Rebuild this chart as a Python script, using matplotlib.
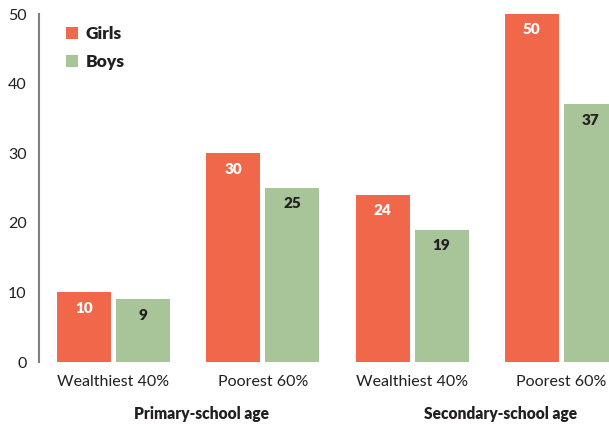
import numpy as np
import matplotlib.pyplot as plt
import matplotlib.transforms as mtransforms

plt.rcParams['font.family'] = ['Lato', 'DejaVu Sans']

categories = ['Wealthiest 40%', 'Poorest 60%', 'Wealthiest 40%', 'Poorest 60%']
groups = ['Primary-school age', 'Secondary-school age']
girls = [10, 30, 24, 50]
boys = [9, 25, 19, 37]

girls_color = '#F06849'
boys_color = '#A8C499'

fig = plt.figure(figsize=(6.09, 4.24), dpi=100)
ax = fig.add_axes([39 / 609, 62 / 424, 570 / 609, 348 / 424])

x = np.arange(len(categories))
w = 0.362
off = 0.198
b1 = ax.bar(x - off, girls, w, color=girls_color, label='Girls')
b2 = ax.bar(x + off, boys, w, color=boys_color, label='Boys')

for rect, v in zip(b1, girls):
    ax.annotate(str(v), (rect.get_x() + rect.get_width() / 2, v),
                xytext=(0, -11.5), textcoords='offset points',
                ha='center', va='center', color='white',
                fontsize=11, fontweight='heavy')
for rect, v in zip(b2, boys):
    ax.annotate(str(v), (rect.get_x() + rect.get_width() / 2, v),
                xytext=(0, -11.5), textcoords='offset points',
                ha='center', va='center', color='#231f20',
                fontsize=11, fontweight='heavy')

ax.set_xlim(-0.499, 3.319)
ax.set_ylim(0, 50)
ax.set_yticks(range(0, 51, 10))
ax.set_xticks(x)
ax.set_xticklabels(categories)
ax.tick_params(axis='both', length=0, labelsize=11.5, colors='#231f20')
ax.tick_params(axis='x', pad=9)
ax.tick_params(axis='y', pad=9)

for s in ['top', 'right', 'bottom']:
    ax.spines[s].set_visible(False)
ax.spines['left'].set_color('#808080')
ax.spines['left'].set_linewidth(1.5)

trans = mtransforms.blended_transform_factory(ax.transData, ax.transAxes)
for gx, g in zip([0.59, 2.59], groups):
    ax.text(gx, -0.149, g, transform=trans, ha='center', va='center',
            fontsize=11.2, fontweight='heavy', color='#231f20')

leg = ax.legend(loc='upper left', bbox_to_anchor=(27 / 570, 0.965), frameon=False,
                borderaxespad=0, borderpad=0,
                handlelength=0.68, handleheight=0.68, handletextpad=0.45,
                labelspacing=0.68, prop={'weight': 'heavy', 'size': 12.5})
for t in leg.get_texts():
    t.set_color('#231f20')

fig.savefig('out.png', dpi=100)
